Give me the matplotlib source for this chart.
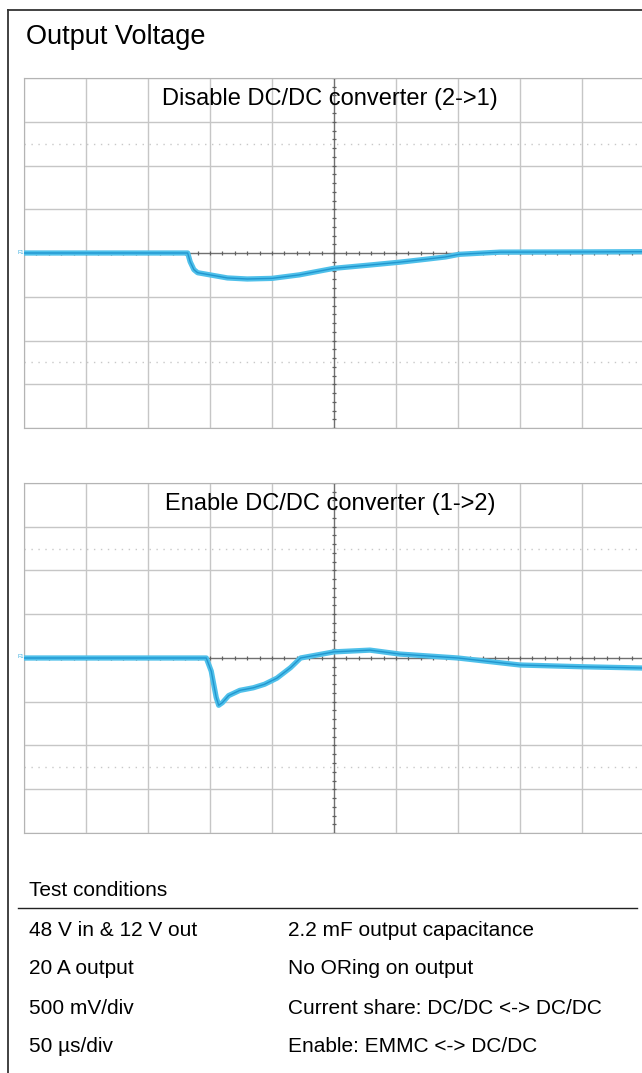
import numpy as np
import matplotlib.pyplot as plt
from matplotlib.lines import Line2D

plt.rcParams['font.family'] = ['Liberation Sans', 'DejaVu Sans']

W, H = 642, 1073

# output voltage deviation, time in us, deviation in mV (50 us/div, 500 mV/div)
t_disable = [-250, -118, -116, -113, -110, -100, -86, -70, -50, -28, 0, 27, 53, 75, 90, 101, 134, 200, 250]
v_disable = [0, 0, -100, -190, -225, -250, -285, -297, -290, -250, -175, -140, -105, -70, -45, -15, 10, 12, 15]

t_enable = [-250, -103, -99, -95, -93, -90, -85, -76, -65, -56, -46, -35, -27, 0, 29, 53, 100, 150, 200, 250]
v_enable = [0, 0, -150, -450, -540, -510, -430, -370, -340, -300, -230, -110, 0, 70, 90, 45, 0, -80, -100, -115]

conditions_left = ["48 V in & 12 V out", "20 A output", "500 mV/div", "50 µs/div"]
conditions_right = ["2.2 mF output capacitance", "No ORing on output",
                    "Current share: DC/DC <-> DC/DC", "Enable: EMMC <-> DC/DC"]

fig = plt.figure(figsize=(W / 100, H / 100), dpi=100)


def fx(x):
    return x / W


def fy(y):
    return 1 - y / H


def scope(top, label, t, v):
    ax = fig.add_axes([fx(24), fy(top + 350), 620 / W, 350 / H])
    ax.set_xlim(-250, 250)
    ax.set_ylim(-2000, 2000)
    ax.set_xticks(np.arange(-250, 251, 50))
    ax.set_yticks(np.arange(-2000, 2001, 500))
    ax.tick_params(length=0, labelbottom=False, labelleft=False)
    ax.grid(True, color='#c6c6c6', lw=1)
    for s in ax.spines.values():
        s.set_color('#b4b4b4')
    # cursor lines
    for yc in (-1250, 1250):
        ax.axhline(yc, color='#c8c8c8', lw=1, ls=(0, (1, 4)))
    # centre axes with small ticks
    ax.axhline(0, color='#707070', lw=0.9)
    ax.axvline(0, color='#707070', lw=0.9)
    xt = np.arange(-250, 251, 10)
    yt = np.arange(-2000, 2001, 100)
    ax.plot(xt, np.zeros_like(xt), ls='none', marker='|', ms=3.5, mew=0.9, color='#606060')
    ax.plot(np.zeros_like(yt), yt, ls='none', marker='_', ms=3.5, mew=0.9, color='#606060')
    # trace
    ax.plot(t, v, color='#4fc0ea', lw=3.8, solid_joinstyle='round', zorder=5)
    ax.plot(t, v, color='#2196cf', lw=1.0, solid_joinstyle='round', zorder=6)
    fig.text(fx(330), fy(top + 21), label, ha='center', va='center', fontsize=17)
    fig.text(fx(17), fy(top + 174), 'F1', ha='left', va='center', fontsize=4, color='#3aaee0')
    return ax


scope(78, "Disable DC/DC converter (2->1)", t_disable, v_disable)
scope(483, "Enable DC/DC converter (1->2)", t_enable, v_enable)

fig.text(fx(26), fy(37), "Output Voltage", ha='left', va='center', fontsize=19.5)

# outer frame (runs past the right and bottom edges)
fig.add_artist(Line2D([fx(8), fx(8)], [fy(10), fy(1080)], color='#333333', lw=1.3))
fig.add_artist(Line2D([fx(8), fx(650)], [fy(10), fy(10)], color='#333333', lw=1.3))

# test conditions table
fig.text(fx(29), fy(891), "Test conditions", ha='left', va='center', fontsize=15)
fig.add_artist(Line2D([fx(18), fx(637)], [fy(908), fy(908)], color='#222222', lw=1.0))
row_y = [930, 969, 1008, 1046]
for y, a, b in zip(row_y, conditions_left, conditions_right):
    fig.text(fx(29), fy(y), a, ha='left', va='center', fontsize=15)
    fig.text(fx(288), fy(y), b, ha='left', va='center', fontsize=15)

fig.savefig('out.png', dpi=100)
